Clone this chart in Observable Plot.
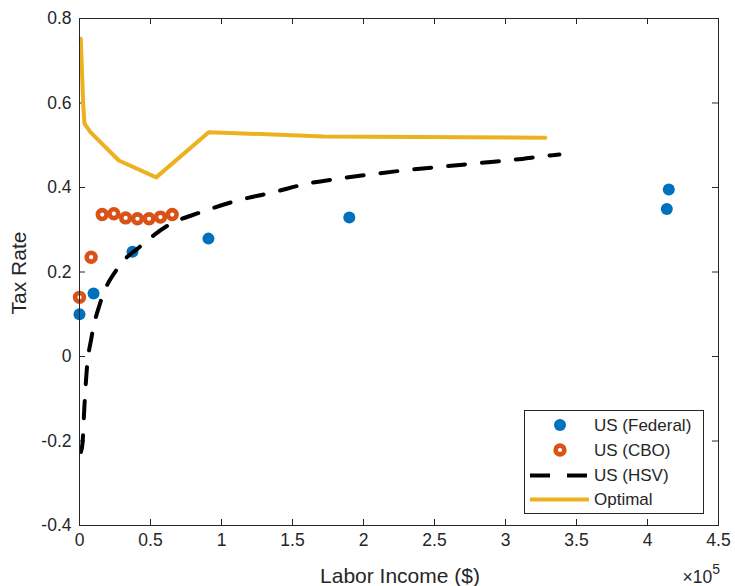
<!DOCTYPE html>
<html>
<head>
<meta charset="utf-8">
<script src="https://cdn.jsdelivr.net/npm/d3@7"></script>
<script src="https://cdn.jsdelivr.net/npm/@observablehq/plot@0.6"></script>
<style>
  html, body { margin: 0; padding: 0; background: #fff; }
  svg { font-family: "Liberation Sans", Arial, Helvetica, sans-serif; }
</style>
</head>
<body>
<div id="chart"></div>
<script>
// ---- Data ----
const federalIncome = [0, 9900, 37300, 90800, 190000, 413600, 415000];
const federalRate   = [0.100, 0.149, 0.248, 0.279, 0.329, 0.349, 0.395];

const cboIncome = [0, 8200, 16000, 24200, 32500, 40800, 49000, 57000, 65300];
const cboRate   = [0.140, 0.235, 0.336, 0.338, 0.328, 0.326, 0.326, 0.330, 0.336];

const hsvIncome = [1000, 2100, 3400, 5000, 8500, 14800, 27500, 42600, 62700, 85200, 111000, 136800, 160300, 182600, 207300, 232600, 257300, 282400, 307000, 331700, 338000];
const hsvRate   = [-0.226, -0.206, -0.122, -0.037, 0.046, 0.129, 0.212, 0.260, 0.311, 0.341, 0.369, 0.389, 0.409, 0.421, 0.432, 0.442, 0.450, 0.458, 0.466, 0.476, 0.478];

const optIncome = [900, 2600, 3500, 7700, 27700, 54000, 91000, 172000, 328000];
const optRate   = [0.752, 0.598, 0.551, 0.531, 0.464, 0.424, 0.531, 0.521, 0.518];

const xTicks = [0, 50000, 100000, 150000, 200000, 250000, 300000, 350000, 400000, 450000];
const yTicks = [-0.4, -0.2, 0, 0.2, 0.4, 0.6, 0.8];

const seriesNames = ["US (Federal)", "US (CBO)", "US (HSV)", "Optimal"];
const colors = {blue: "#0072BD", orange: "#D95319", yellow: "#EDB120", black: "#000000", axis: "#262626"};

const zip = (xs, ys) => xs.map((x, i) => ({x, y: ys[i]}));
const federal = zip(federalIncome, federalRate);
const cbo = zip(cboIncome, cboRate);
const hsv = zip(hsvIncome, hsvRate);
const opt = zip(optIncome, optRate);

// ---- Layout ----
const W = 735, H = 586;
const mt = 18, mr = 17, mb = 61, ml = 79;
const pw = W - ml - mr, ph = H - mt - mb;
const tickLen = 6;
const font = 17.5;

const svg = Plot.plot({
  width: W, height: H,
  marginTop: mt, marginRight: mr, marginBottom: mb, marginLeft: ml,
  style: {fontFamily: '"Liberation Sans", Arial, Helvetica, sans-serif', fontSize: font + "px", color: colors.axis, background: "#fff"},
  x: {domain: [0, 450000]},
  y: {domain: [-0.4, 0.8]},
  marks: [
    // inward ticks on all four sides
    Plot.tickX(xTicks, {x: d => d, insetTop: ph - tickLen, stroke: colors.axis, strokeWidth: 1}),
    Plot.tickX(xTicks, {x: d => d, insetBottom: ph - tickLen, stroke: colors.axis, strokeWidth: 1}),
    Plot.tickY(yTicks, {y: d => d, insetRight: pw - tickLen, stroke: colors.axis, strokeWidth: 1}),
    Plot.tickY(yTicks, {y: d => d, insetLeft: pw - tickLen, stroke: colors.axis, strokeWidth: 1}),
    Plot.axisX({ticks: xTicks, tickSize: 0, tickPadding: 8, tickFormat: d => String(d / 1e5), label: null, fontSize: font, fill: colors.axis}),
    Plot.axisY({ticks: yTicks, tickSize: 0, tickPadding: 8, tickFormat: d => d === 0 ? "0" : d.toFixed(1).replace("\u2212", "-"), label: null, fontSize: font, fill: colors.axis}),
    // data
    Plot.dot(federal, {x: "x", y: "y", r: 6, fill: colors.blue, stroke: "none"}),
    Plot.dot(cbo, {x: "x", y: "y", r: 4.4, fill: "none", stroke: colors.orange, strokeWidth: 4.6}),
    Plot.line(hsv, {x: "x", y: "y", stroke: colors.black, strokeWidth: 4, strokeDasharray: "17,17", curve: "monotone-x"}),
    Plot.line(opt, {x: "x", y: "y", stroke: colors.yellow, strokeWidth: 4}),
    Plot.frame({stroke: colors.axis, strokeWidth: 1})
  ]
});

const s = d3.select(svg);
// axis labels
s.append("text").attr("x", 400).attr("y", 583).attr("text-anchor", "middle")
  .attr("font-size", 21).attr("fill", colors.axis).text("Labor Income ($)");
s.append("text").attr("transform", `translate(26,273) rotate(-90)`).attr("text-anchor", "middle")
  .attr("font-size", 21).attr("fill", colors.axis).text("Tax Rate");
// exponent
const ex = s.append("text").attr("x", 720).attr("y", 583).attr("text-anchor", "end")
  .attr("font-size", font).attr("fill", colors.axis);
ex.append("tspan").text("\u00d710");
ex.append("tspan").attr("dy", -9).attr("font-size", font * 0.8).text("5");

// legend
const lg = s.append("g");
lg.append("rect").attr("x", 524.5).attr("y", 410.5).attr("width", 179).attr("height", 103)
  .attr("fill", "#fff").attr("stroke", colors.axis).attr("stroke-width", 1);
const rows = [425, 450, 475.5, 499.5];
const lx1 = 530, lx2 = 589, mx = 560, tx = 594;
lg.append("circle").attr("cx", mx).attr("cy", rows[0]).attr("r", 6).attr("fill", colors.blue);
lg.append("circle").attr("cx", mx).attr("cy", rows[1]).attr("r", 4.4).attr("fill", "none").attr("stroke", colors.orange).attr("stroke-width", 4.6);
lg.append("line").attr("x1", lx1).attr("x2", lx2).attr("y1", rows[2]).attr("y2", rows[2])
  .attr("stroke", colors.black).attr("stroke-width", 4).attr("stroke-dasharray", "20,17");
lg.append("line").attr("x1", lx1).attr("x2", lx2).attr("y1", rows[3]).attr("y2", rows[3])
  .attr("stroke", colors.yellow).attr("stroke-width", 4);
seriesNames.forEach((n, i) => {
  lg.append("text").attr("x", tx).attr("y", rows[i]).attr("dy", "0.35em").attr("text-anchor", "start")
    .attr("font-size", 17).attr("fill", colors.axis).text(n);
});

document.getElementById("chart").appendChild(svg);
</script>
</body>
</html>
